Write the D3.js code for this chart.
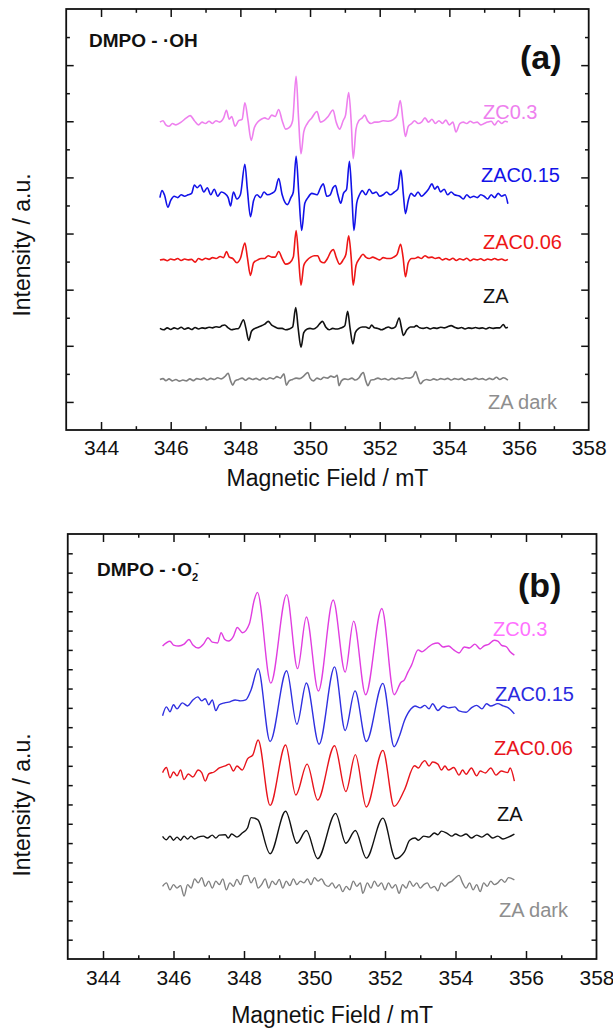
<!DOCTYPE html>
<html><head><meta charset="utf-8">
<script src="https://cdn.jsdelivr.net/npm/d3@7"></script>
<style>
body{margin:0;background:#fff;}
svg{display:block;}
text{font-family:"Liberation Sans",Arial,Helvetica,sans-serif;}
</style>
</head><body>
<svg id="c" width="613" height="1030"></svg>
<script>
// ---------------- DATA ----------------
const fieldDomain = [343, 358];
const fieldTicks = [343,344,345,346,347,348,349,350,351,352,353,354,355,356,357,358];
const tickLabelsShown = [344,346,348,350,352,354,356,358];
const seriesNames = ["ZC0.3", "ZAC0.15", "ZAC0.06", "ZA", "ZA dark"];

// Panel (a): DMPO - ·OH, [field mT, intensity relative to its baseline]
const a_ZC03 = [[345.69,0.05],[345.78,0.1],[345.86,-0.05],[345.95,-0.1],[346.05,0],[346.15,-0.05],[346.3,0.05],[346.45,0.2],[346.56,0.28],[346.68,0.1],[346.8,-0.05],[346.9,0.05],[347.0,0],[347.1,0.08],[347.2,0],[347.3,0.1],[347.4,0.05],[347.52,0.2],[347.6,0.47],[347.68,0.15],[347.75,0.25],[347.85,-0.1],[347.95,0.1],[348.05,0.15],[348.13,0.74],[348.22,0.1],[348.31,-0.6],[348.4,-0.15],[348.5,0.05],[348.6,0.15],[348.7,0.2],[348.8,0.15],[348.9,0.3],[349.0,0.25],[349.1,0.5],[349.2,0.1],[349.3,-0.2],[349.4,-0.15],[349.5,0.1],[349.6,1.68],[349.67,0.2],[349.74,-1.08],[349.82,-0.3],[349.92,0],[350.05,0.2],[350.2,0.43],[350.3,0.05],[350.4,0.1],[350.52,0.25],[350.66,0.48],[350.75,0.05],[350.85,-0.2],[350.95,0.1],[351.02,0.3],[351.11,1.1],[351.18,0.1],[351.24,-1.25],[351.32,-0.2],[351.4,0.1],[351.5,0.2],[351.57,0.3],[351.65,0.1],[351.75,0],[351.85,0.05],[351.95,0.05],[352.1,0.1],[352.25,0.08],[352.4,0.15],[352.5,0.3],[352.59,0.82],[352.67,0.1],[352.74,-0.46],[352.82,-0.1],[352.92,0],[353.0,0.1],[353.1,0],[353.2,0.05],[353.3,0.2],[353.4,0.05],[353.5,0.15],[353.6,0],[353.7,0.1],[353.8,0],[353.9,0.12],[354.0,-0.05],[354.1,0.05],[354.19,-0.3],[354.3,0],[354.4,0.05],[354.5,0],[354.6,0.08],[354.7,0.02],[354.8,0.05],[354.9,-0.05],[355.0,0],[355.1,0.05],[355.2,0.08],[355.3,-0.05],[355.4,0.1],[355.5,0],[355.6,0.08],[355.68,0.05]];
const a_ZAC015 = [[345.69,0],[345.75,0.25],[345.82,0.1],[345.92,-0.34],[346.0,-0.1],[346.1,0.05],[346.2,0],[346.3,0.1],[346.4,0.05],[346.5,0.1],[346.6,0.15],[346.68,0.45],[346.76,0.35],[346.85,0.45],[346.95,0.2],[347.05,0.35],[347.15,0.1],[347.25,0.3],[347.35,0.05],[347.45,0.2],[347.55,0.15],[347.65,0],[347.72,-0.3],[347.8,0.2],[347.9,-0.05],[348.0,0.1],[348.13,1.19],[348.2,0.3],[348.29,-0.68],[348.38,-0.1],[348.48,0.1],[348.58,0],[348.68,0.2],[348.78,0.1],[348.9,0.15],[349.0,0.25],[349.1,0.68],[349.2,0.1],[349.35,-0.25],[349.45,0],[349.52,0.2],[349.6,1.47],[349.68,0.1],[349.76,-1.17],[349.85,-0.2],[349.94,0],[350.05,0.15],[350.2,0.1],[350.3,0.35],[350.38,0.49],[350.48,0.05],[350.58,0.1],[350.66,0.35],[350.73,0.43],[350.8,0.1],[350.88,-0.2],[350.96,0.15],[351.05,0.3],[351.13,1.29],[351.2,0.1],[351.26,-1.17],[351.34,-0.2],[351.42,0.1],[351.5,0.25],[351.6,0.1],[351.7,0.3],[351.8,0.15],[351.9,0.2],[352.0,0.05],[352.1,0.1],[352.2,0.2],[352.3,0.1],[352.42,0.2],[352.52,0.3],[352.61,0.98],[352.68,0.1],[352.74,-0.57],[352.82,-0.1],[352.9,0.15],[353.0,0.05],[353.1,0.2],[353.2,0.05],[353.3,0.15],[353.4,0.3],[353.5,0.49],[353.58,0.3],[353.66,0.4],[353.75,0.2],[353.85,0.3],[353.95,0.1],[354.05,0.2],[354.15,0.1],[354.3,0.05],[354.4,-0.05],[354.5,0.1],[354.6,0],[354.7,0.05],[354.8,0],[354.9,0.1],[355.0,0.05],[355.1,-0.05],[355.2,0.1],[355.3,0],[355.4,0.15],[355.5,0.05],[355.6,0.1],[355.68,-0.22]];
const a_ZAC006 = [[345.69,0],[345.8,0.02],[345.9,-0.03],[346.0,0.03],[346.1,0],[346.2,0.05],[346.3,-0.02],[346.4,0.03],[346.5,0],[346.6,0.02],[346.7,-0.08],[346.8,0.05],[346.9,0],[347.0,0.06],[347.1,0.02],[347.2,0.08],[347.3,0.05],[347.42,0.12],[347.52,0.08],[347.6,0.3],[347.68,0.1],[347.78,0.05],[347.9,-0.1],[348.0,0.05],[348.13,0.6],[348.2,0.1],[348.29,-0.55],[348.38,-0.1],[348.5,0],[348.6,0.05],[348.7,0.05],[348.8,0.15],[348.9,0.1],[349.0,0.1],[349.1,0.3],[349.2,0.05],[349.3,-0.15],[349.42,-0.1],[349.52,0.1],[349.6,1.05],[349.67,0.1],[349.74,-0.9],[349.82,-0.2],[349.92,0],[350.02,0.1],[350.12,0.15],[350.22,0.15],[350.3,-0.05],[350.4,-0.1],[350.5,0.05],[350.6,0.3],[350.67,0.37],[350.75,0.1],[350.85,-0.15],[350.95,0],[351.03,0.2],[351.11,0.86],[351.18,0.1],[351.24,-0.9],[351.32,-0.2],[351.42,0.05],[351.52,0.2],[351.6,0.1],[351.7,0.05],[351.8,0.1],[351.9,0.05],[352.0,0],[352.1,0.08],[352.2,0.05],[352.3,0.05],[352.4,0.1],[352.5,0.2],[352.6,0.56],[352.67,0.1],[352.74,-0.6],[352.82,-0.1],[352.92,0.05],[353.0,0.05],[353.1,0.1],[353.2,0.05],[353.3,0.15],[353.4,0.08],[353.5,0.1],[353.6,0.05],[353.7,0.08],[353.8,0],[353.9,0.05],[354.0,0],[354.1,0.06],[354.2,-0.02],[354.3,0.04],[354.4,0],[354.5,0.06],[354.6,-0.03],[354.7,0.03],[354.8,0],[354.9,0.04],[355.0,-0.02],[355.1,0.03],[355.2,0],[355.3,0.05],[355.4,0],[355.5,0.03],[355.6,-0.02],[355.68,0.02]];
const a_ZA = [[345.69,0],[345.8,-0.05],[345.9,0.02],[346.0,-0.04],[346.1,0.02],[346.2,-0.02],[346.3,0.04],[346.4,-0.03],[346.5,0.02],[346.6,-0.04],[346.7,0.03],[346.8,-0.02],[346.9,0.02],[347.0,0],[347.1,0.04],[347.2,0.02],[347.3,0.06],[347.4,0.04],[347.48,0.1],[347.55,0.12],[347.65,0.02],[347.75,-0.05],[347.85,-0.02],[347.95,0],[348.09,0.31],[348.16,0],[348.24,-0.43],[348.32,-0.1],[348.42,0],[348.52,0.05],[348.62,0.1],[348.7,0.15],[348.8,0.25],[348.9,0.12],[349.0,0.05],[349.1,0],[349.2,0],[349.3,-0.05],[349.4,-0.02],[349.5,0.05],[349.59,0.74],[349.66,0],[349.74,-0.67],[349.82,-0.15],[349.92,-0.02],[350.0,0],[350.1,-0.02],[350.2,0.05],[350.3,0.2],[350.36,0.25],[350.45,0.05],[350.55,-0.05],[350.65,0],[350.75,-0.02],[350.85,0],[350.95,0.05],[351.0,0.1],[351.08,0.61],[351.15,0],[351.23,-0.55],[351.3,-0.15],[351.4,0],[351.5,0.05],[351.6,0.05],[351.7,0],[351.77,0.12],[351.85,0.02],[351.95,0],[352.05,-0.05],[352.15,0],[352.25,0.05],[352.35,0],[352.45,0.05],[352.56,0.37],[352.62,0.05],[352.68,-0.25],[352.78,-0.05],[352.88,0.05],[352.98,0.05],[353.05,0.1],[353.15,0.02],[353.25,0],[353.35,0.03],[353.45,-0.02],[353.55,0.02],[353.65,0],[353.75,0.04],[353.85,0.02],[353.95,0.06],[354.05,0.1],[354.15,0.04],[354.25,0],[354.35,0.03],[354.45,-0.02],[354.55,0.02],[354.65,0],[354.75,0.03],[354.85,0],[354.95,0.02],[355.05,-0.02],[355.15,0.03],[355.25,0],[355.35,0.02],[355.45,0.02],[355.55,0.14],[355.62,0.02],[355.68,0.04]];
const a_ZAdark = [[345.69,0],[345.78,0.03],[345.86,-0.04],[345.95,0.02],[346.05,-0.05],[346.15,0],[346.25,-0.06],[346.35,-0.02],[346.45,-0.05],[346.55,0.02],[346.65,-0.04],[346.75,0.03],[346.85,0],[346.95,0.05],[347.05,-0.02],[347.15,0.04],[347.25,0],[347.35,0.06],[347.45,0.02],[347.55,0.1],[347.65,0.22],[347.72,-0.05],[347.78,-0.2],[347.85,-0.05],[347.95,0],[348.05,0.05],[348.15,-0.03],[348.25,0.05],[348.35,0],[348.45,0.04],[348.55,-0.02],[348.65,0.05],[348.75,0],[348.85,0.06],[348.95,0.02],[349.05,0.1],[349.15,0.05],[349.25,0.2],[349.32,-0.2],[349.4,-0.05],[349.5,0],[349.6,0.05],[349.7,0.03],[349.8,0.1],[349.88,0.2],[349.94,0.25],[350.0,0.05],[350.1,-0.05],[350.2,0.05],[350.3,0],[350.4,0.08],[350.5,0.05],[350.6,0.12],[350.7,0.08],[350.78,0.15],[350.83,-0.22],[350.9,-0.05],[351.0,0.02],[351.1,0],[351.2,0.05],[351.3,-0.02],[351.4,0.05],[351.48,0.2],[351.53,0.25],[351.6,-0.05],[351.66,-0.22],[351.75,-0.02],[351.85,0],[351.95,0.05],[352.05,0],[352.15,0.03],[352.25,-0.02],[352.35,0.04],[352.45,0],[352.55,0.05],[352.65,0.02],[352.75,0.06],[352.85,0.05],[352.95,0.1],[353.03,0.28],[353.1,0.05],[353.17,-0.15],[353.25,-0.05],[353.35,0],[353.45,-0.03],[353.55,0.02],[353.65,-0.02],[353.75,0.03],[353.85,0],[353.95,0.04],[354.05,-0.02],[354.15,0.03],[354.25,0],[354.35,0.04],[354.45,-0.03],[354.55,0.02],[354.65,0],[354.75,0.05],[354.85,0],[354.95,0.03],[355.05,-0.02],[355.15,0.04],[355.25,0],[355.35,0.08],[355.45,0],[355.55,0.06],[355.68,-0.02]];
const a_offsets = [10.92, 8.28, 6.06, 3.62, 1.80];

// Panel (b): DMPO - ·O2-, [field mT, intensity relative to its baseline]
const b_ZC03 = [[345.69,0],[345.9,0.25],[346.0,0.05],[346.15,0],[346.3,0.1],[346.44,0.34],[346.55,0.05],[346.7,-0.1],[346.85,0.1],[346.98,0.43],[347.1,0.2],[347.25,0.16],[347.35,0.69],[347.45,0.35],[347.56,0.26],[347.7,0.5],[347.81,0.96],[347.96,0.69],[348.15,1.14],[348.29,2.38],[348.38,2.78],[348.76,-1.92],[349.21,2.66],[349.52,-1.17],[349.77,1.5],[350.11,-2.33],[350.53,2.38],[350.87,-1.35],[351.11,1.29],[351.45,-2.52],[351.91,1.94],[352.26,-2.52],[352.45,-1.89],[352.55,-1.75],[352.65,-1.35],[352.75,-1.0],[352.94,-0.2],[353.05,-0.3],[353.2,-0.1],[353.35,0.1],[353.5,0.16],[353.65,-0.05],[353.8,0],[353.95,-0.2],[354.1,-0.36],[354.25,-0.05],[354.4,-0.1],[354.55,0.1],[354.7,-0.15],[354.8,0],[354.95,0.1],[355.1,0.3],[355.2,0.26],[355.3,0.05],[355.45,-0.05],[355.55,-0.3],[355.67,-0.47]];
const b_ZAC015 = [[345.69,-0.41],[345.8,0.05],[345.9,-0.2],[346.0,0.16],[346.1,-0.05],[346.25,0.26],[346.4,0.1],[346.55,0.41],[346.69,0.57],[346.8,0.36],[346.9,0.47],[347.0,0.16],[347.1,0.41],[347.2,-0.14],[347.3,0.16],[347.45,0.26],[347.6,0.31],[347.75,0.41],[347.9,0.36],[348.05,0.41],[348.2,0.93],[348.4,2.03],[348.74,-1.74],[349.21,1.92],[349.5,-0.85],[349.77,1.29],[350.13,-1.88],[350.57,2.12],[350.87,-1.17],[351.15,0.88],[351.47,-1.74],[351.94,1.27],[352.26,-2.01],[352.42,-1.4],[352.55,-0.67],[352.74,-0.05],[352.85,0.1],[353.0,0],[353.13,0.13],[353.25,-0.05],[353.35,0.21],[353.5,-0.14],[353.65,0.1],[353.8,0],[353.98,0.05],[354.1,-0.16],[354.3,-0.23],[354.45,0],[354.6,0.13],[354.75,-0.05],[354.88,0.21],[355.0,0.1],[355.2,0.22],[355.35,0.1],[355.5,0],[355.67,-0.31]];
const b_ZAC006 = [[345.69,-0.03],[345.8,0.23],[345.9,-0.3],[346.0,0],[346.1,-0.2],[346.2,0.1],[346.3,-0.39],[346.42,-0.1],[346.55,-0.26],[346.7,0.1],[346.8,-0.03],[346.9,-0.47],[347.0,-0.1],[347.15,0],[347.3,0.21],[347.47,0.32],[347.58,0.41],[347.7,0.05],[347.8,0.31],[347.95,0.1],[348.1,0.68],[348.25,0.88],[348.4,1.66],[348.74,-1.73],[349.18,1.4],[349.47,-1.19],[349.79,0.41],[350.09,-1.45],[350.57,1.36],[350.89,-1.01],[351.16,0.9],[351.47,-1.81],[351.94,1.12],[352.26,-1.78],[352.55,-0.93],[352.84,0.32],[352.95,0.21],[353.05,0.47],[353.13,0.59],[353.25,0.31],[353.35,0.52],[353.5,0.41],[353.6,0.1],[353.7,0.31],[353.8,0.1],[353.95,0.23],[354.1,-0.16],[354.2,0.1],[354.3,-0.12],[354.45,0.21],[354.6,-0.2],[354.7,0.05],[354.85,-0.05],[355.0,0.21],[355.15,-0.16],[355.3,0.05],[355.48,-0.03],[355.55,0.21],[355.67,-0.47]];
const b_ZA = [[345.69,0.04],[345.8,-0.14],[345.9,0.05],[346.0,-0.16],[346.1,0],[346.2,-0.16],[346.3,0.05],[346.4,-0.1],[346.5,0.05],[346.6,-0.1],[346.7,0],[346.85,0.05],[346.96,-0.05],[347.1,0.1],[347.2,-0.05],[347.3,0.1],[347.47,0.12],[347.55,-0.05],[347.65,0.16],[347.8,0],[347.95,0.21],[348.1,0.47],[348.2,1.01],[348.3,0.98],[348.4,0.88],[348.74,-0.86],[349.18,1.34],[349.5,-0.32],[349.77,0.34],[350.09,-1.12],[350.6,1.23],[350.89,-0.32],[351.16,0.34],[351.47,-1.09],[351.94,0.98],[352.3,-1.12],[352.55,-0.77],[352.7,-0.16],[352.85,-0.05],[352.95,-0.16],[353.1,0.05],[353.25,0],[353.4,0.21],[353.5,0.12],[353.6,0.31],[353.75,0.21],[353.9,0.05],[354.0,0.16],[354.15,0.05],[354.3,0.16],[354.45,-0.05],[354.6,0.1],[354.75,0],[354.9,0.16],[355.05,-0.05],[355.2,0.05],[355.35,-0.1],[355.5,0],[355.67,0.16]];
const b_ZAdark = [[345.69,-0.09],[345.8,0.09],[345.9,-0.27],[346.0,0],[346.1,-0.18],[346.2,-0.05],[346.3,-0.59],[346.4,0],[346.5,-0.18],[346.6,0.3],[346.7,0.09],[346.8,0.36],[346.9,-0.09],[347.0,0.18],[347.1,-0.18],[347.2,0.18],[347.3,0],[347.4,0.3],[347.5,-0.27],[347.6,0.09],[347.7,-0.09],[347.8,0.27],[347.9,0],[348.0,0.45],[348.1,0.48],[348.2,0.09],[348.3,0.36],[348.4,-0.18],[348.5,0],[348.6,0.3],[348.7,-0.18],[348.8,0.18],[348.9,0],[349.0,0.27],[349.1,-0.18],[349.2,0.18],[349.3,-0.05],[349.4,0.3],[349.5,0],[349.6,0.18],[349.7,0.09],[349.8,0.3],[349.9,0],[350.0,0.36],[350.1,0.18],[350.2,0.3],[350.3,0],[350.4,-0.09],[350.5,0.09],[350.6,-0.18],[350.7,0],[350.8,-0.36],[350.9,-0.09],[351.0,-0.27],[351.1,0.18],[351.2,-0.09],[351.3,0.09],[351.37,-0.45],[351.5,0.09],[351.6,-0.18],[351.7,0.18],[351.8,-0.09],[351.9,0.09],[352.0,-0.27],[352.1,0.09],[352.2,-0.18],[352.3,0],[352.4,-0.45],[352.5,0],[352.6,-0.18],[352.7,0.18],[352.8,-0.09],[352.9,0.09],[353.0,-0.18],[353.1,0],[353.2,0.09],[353.3,-0.18],[353.4,-0.09],[353.5,-0.32],[353.6,0.09],[353.7,-0.09],[353.8,0.09],[353.9,0.18],[354.0,0.36],[354.1,0.48],[354.2,0.09],[354.3,-0.18],[354.4,0.09],[354.5,-0.27],[354.6,0],[354.7,-0.36],[354.8,0.09],[354.9,-0.09],[355.0,0.18],[355.1,0],[355.2,0.09],[355.3,0.27],[355.4,0.12],[355.5,0.36],[355.67,0.25]];
const b_offsets = [16.2, 13.0, 9.68, 6.31, 3.85];

// ---------------- LAYOUT / STYLE ----------------
const svg = d3.select("#c");
const FONT = '"Liberation Sans", Arial, Helvetica, sans-serif';

const panels = [
  {
    series: [a_ZC03, a_ZAC015, a_ZAC006, a_ZA, a_ZAdark],
    offsets: a_offsets,
    left: 66.2, right: 588.7, top: 9, bottom: 430,
    yDomain: [0, 15], yTicks: d3.range(1, 15),
    yMajor: v => v % 2 === 1, yMajorLen: 7.5, yMinorLen: 3.7,
    lineColors: ["#ee80ee", "#1212e8", "#ee1616", "#111111", "#808080"],
    labelColors: ["#ee80ee", "#1212e8", "#ee1616", "#111111", "#8e8e8e"],
    lineWidth: 1.6,
    labelPos: [[483,118.5],[481,181.5],[483,248.5],[483,302.5],[488,409]],
    letter: "(a)", letterPos: [520, 69],
    dmpoPos: [89, 47], dmpoSuper: false,
    ylabelPos: [30, 245], xlabelY: 486, tickPad: 10
  },
  {
    series: [b_ZC03, b_ZAC015, b_ZAC006, b_ZA, b_ZAdark],
    offsets: b_offsets,
    left: 67.75, right: 596.5, top: 534, bottom: 959,
    yDomain: [0, 22], yTicks: d3.range(1, 22),
    yMajor: v => true, yMajorLen: 5, yMinorLen: 5,
    lineColors: ["#e03ee0", "#3030e0", "#e8141c", "#111111", "#808080"],
    labelColors: ["#ff72ff", "#2a2ae0", "#e8141c", "#111111", "#8e8e8e"],
    lineWidth: 1.4,
    labelPos: [[493,636],[495,701],[494,755],[497,821],[499,917]],
    letter: "(b)", letterPos: [518, 597],
    dmpoPos: [97, 576], dmpoSuper: true,
    ylabelPos: [30, 805], xlabelY: 1023, tickPad: 11
  }
];

panels.forEach(p => {
  const x = d3.scaleLinear().domain(fieldDomain).range([p.left, p.right]);
  const y = d3.scaleLinear().domain(p.yDomain).range([p.bottom, p.top]);
  const g = svg.append("g");

  // traces
  p.series.forEach((s, i) => {
    const line = d3.line()
      .x(d => x(d[0]))
      .y(d => y(d[1] + p.offsets[i]))
      .curve(d3.curveMonotoneX);
    g.append("path").attr("d", line(s))
      .attr("fill", "none").attr("stroke", p.lineColors[i])
      .attr("stroke-width", p.lineWidth).attr("stroke-linejoin", "round");
  });

  // axes
  const fmt = d => tickLabelsShown.includes(d) ? String(d) : "";
  const xb = g.append("g").attr("transform", `translate(0,${p.bottom})`)
    .call(d3.axisBottom(x).tickValues(fieldTicks).tickSizeInner(-8).tickSizeOuter(0).tickPadding(p.tickPad).tickFormat(fmt));
  const xtp = g.append("g").attr("transform", `translate(0,${p.top})`)
    .call(d3.axisTop(x).tickValues(fieldTicks).tickSizeInner(-8).tickSizeOuter(0).tickFormat(""));
  const yl = g.append("g").attr("transform", `translate(${p.left},0)`)
    .call(d3.axisLeft(y).tickValues(p.yTicks).tickSizeInner(-p.yMajorLen).tickSizeOuter(0).tickFormat(""));
  const yr = g.append("g").attr("transform", `translate(${p.right},0)`)
    .call(d3.axisRight(y).tickValues(p.yTicks).tickSizeInner(-p.yMajorLen).tickSizeOuter(0).tickFormat(""));

  [xb, xtp, yl, yr].forEach(a => {
    a.select(".domain").remove();
    a.selectAll(".tick line").attr("stroke", "#111").attr("stroke-width", 1.5);
  });
  xb.selectAll(".tick").filter(d => d % 2 !== 0).select("line").attr("y2", -3.8);
  xtp.selectAll(".tick").filter(d => d % 2 !== 0).select("line").attr("y2", 3.8);
  xb.selectAll(".tick").filter(d => d === 343 || d === 358).select("line").remove();
  xtp.selectAll(".tick").filter(d => d === 343 || d === 358).select("line").remove();
  yl.selectAll(".tick").filter(d => !p.yMajor(d)).select("line").attr("x2", p.yMinorLen);
  yr.selectAll(".tick").filter(d => !p.yMajor(d)).select("line").attr("x2", -p.yMinorLen);
  xb.selectAll(".tick text").attr("font-family", FONT).attr("font-size", 21).attr("fill", "#111");

  // frame
  g.append("rect").attr("x", p.left).attr("y", p.top)
    .attr("width", p.right - p.left).attr("height", p.bottom - p.top)
    .attr("fill", "none").attr("stroke", "#111").attr("stroke-width", 1.8);

  // series labels
  seriesNames.forEach((n, i) => {
    g.append("text").attr("x", p.labelPos[i][0]).attr("y", p.labelPos[i][1])
      .attr("font-size", 20).attr("fill", p.labelColors[i]).text(n);
  });

  // panel letter
  g.append("text").attr("x", p.letterPos[0]).attr("y", p.letterPos[1])
    .attr("font-family", '"Open Sans", sans-serif').attr("font-weight", 700)
    .attr("font-size", 34).attr("fill", "#111").text(p.letter);

  // DMPO label
  const t = g.append("text").attr("x", p.dmpoPos[0]).attr("y", p.dmpoPos[1])
    .attr("font-size", 19).attr("font-weight", 700).attr("fill", "#111");
  if (!p.dmpoSuper) {
    t.text("DMPO - \u00B7OH");
  } else {
    t.append("tspan").text("DMPO - \u00B7O");
    t.append("tspan").attr("font-size", 11).attr("dy", 5).text("2");
    t.append("tspan").attr("font-size", 11).attr("dy", -15).attr("dx", -3).text("-");
  }

  // axis titles
  g.append("text").attr("transform", `translate(${p.ylabelPos[0]},${p.ylabelPos[1]}) rotate(-90)`)
    .attr("text-anchor", "middle").attr("font-size", 23).attr("fill", "#111").text("Intensity / a.u.");
  g.append("text").attr("x", (p.left + p.right) / 2).attr("y", p.xlabelY)
    .attr("text-anchor", "middle").attr("font-size", 23).attr("fill", "#111").text("Magnetic Field / mT");
});
</script>
</body></html>
